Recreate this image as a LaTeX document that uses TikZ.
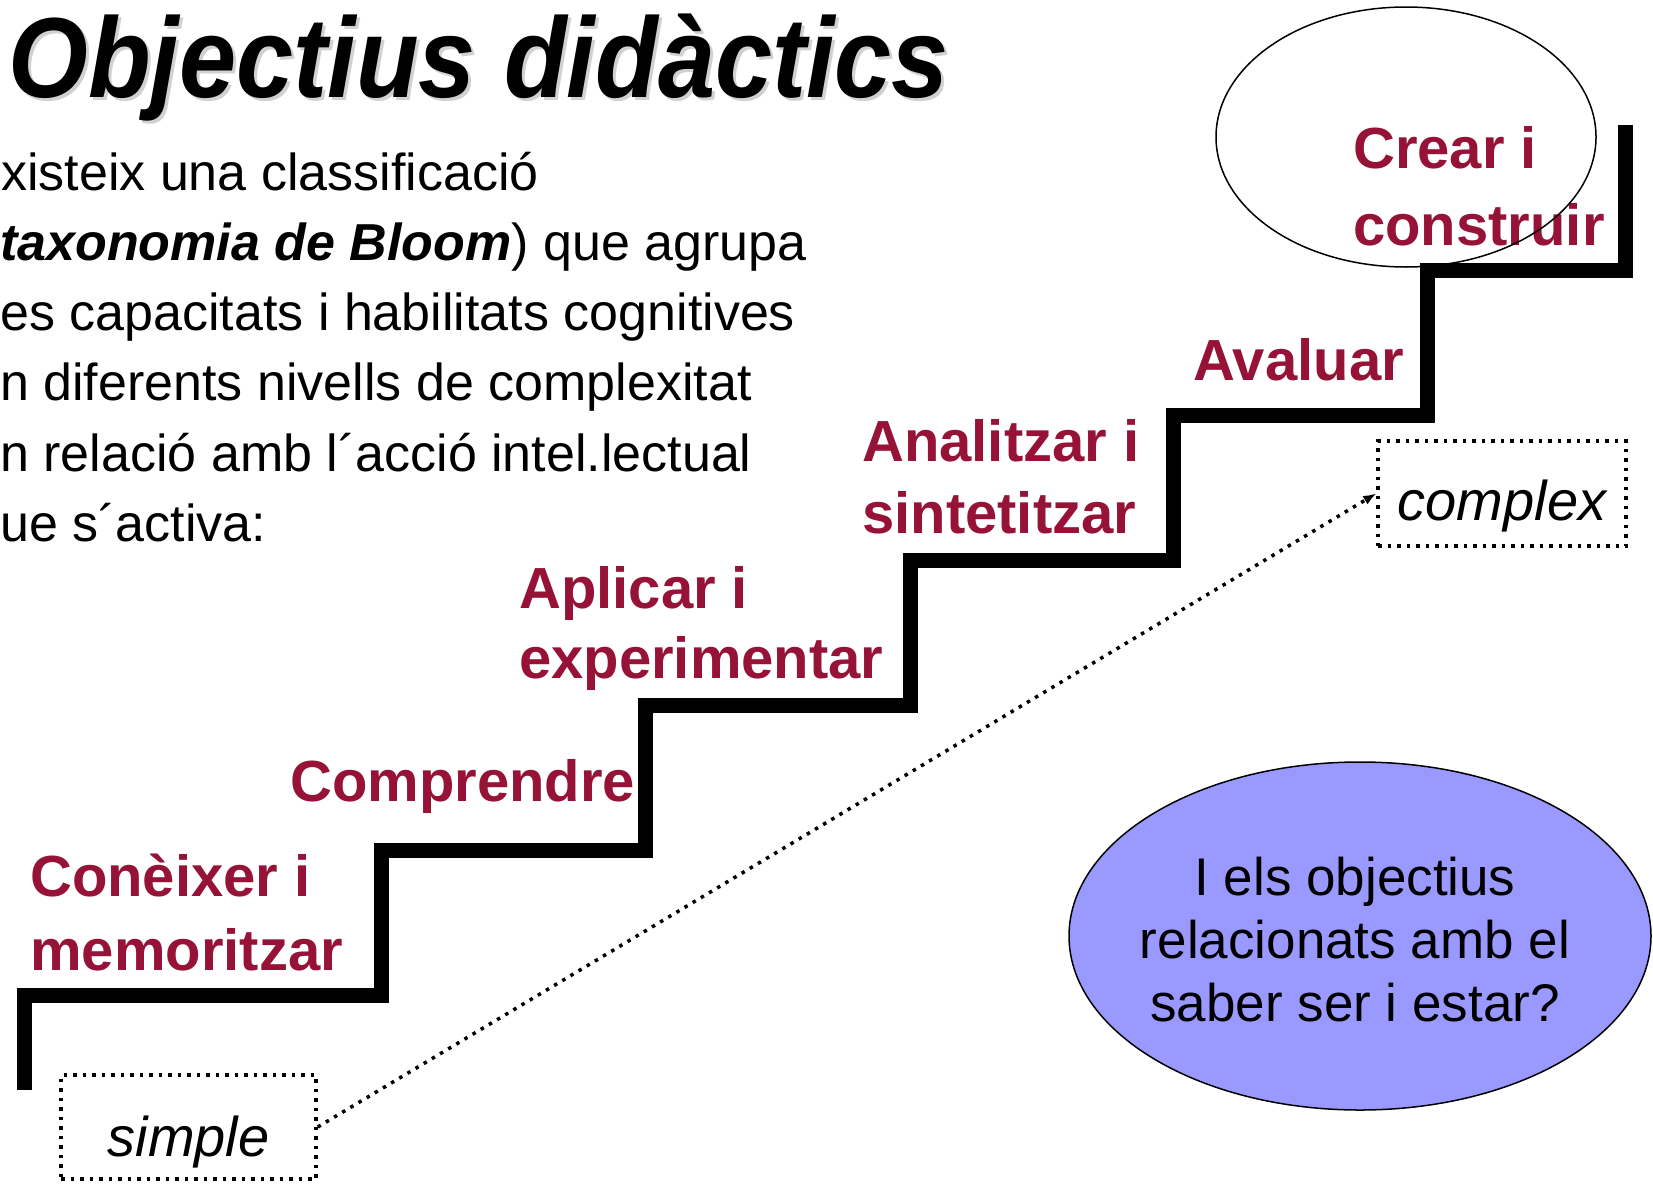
\documentclass[tikz,border=0pt]{standalone}
\usepackage{fontspec}
\setmainfont{Liberation Sans}
\newfontfamily\titlefont[FakeStretch=0.9]{Liberation Sans}
\usetikzlibrary{shapes.geometric,arrows.meta}
\definecolor{stepred}{RGB}{150,18,55}
\definecolor{ovalblue}{RGB}{153,153,255}
\begin{document}
\begin{tikzpicture}[x=1pt,y=-1pt,
  stairline/.style={line width=15pt, line join=miter, line cap=butt},
  steplabel/.style={anchor=base west, inner sep=0pt, text=stepred, font=\fontsize{58}{60}\selectfont\bfseries},
  bodytext/.style={anchor=base west, inner sep=0pt, font=\fontsize{52}{60}\selectfont},
  titletext/.style={anchor=base west, inner sep=0pt, font=\titlefont\fontsize{114}{120}\selectfont\bfseries\itshape},
  dotbox/.style={draw, line width=3.5pt, dash pattern=on 3.5pt off 6pt, inner sep=0pt, font=\fontsize{56}{60}\selectfont\itshape},
  dotarrow/.style={line width=3.5pt, dash pattern=on 3.5pt off 6pt, -{Latex[length=13pt,width=10pt]}},
  ]
\useasboundingbox (0,0) rectangle (1653,1183);
\fill[white] (0,0) rectangle (1653,1183);

% title
\node[titletext, text=black!18] (titleshadow) at (11,100) {Objectius didàctics};
\node[titletext, text=black] (title) at (8,97) {Objectius didàctics};

% body text
\node[bodytext] (l1) at (1,190) {xisteix una classificació};
\node[bodytext] (l2) at (0,260) {\textbf{\textit{taxonomia de Bloom}}) que agrupa};
\node[bodytext] (l3) at (0,330) {es capacitats i habilitats cognitives};
\node[bodytext] (l4) at (0,400) {n diferents nivells de complexitat};
\node[bodytext] (l5) at (0,471) {n relació amb l´acció intel.lectual};
\node[bodytext] (l6) at (0,541) {ue s´activa:};

% staircase
\draw[stairline] (24,1090) -- (24,995) -- (381,995) -- (381,850) -- (645,850)
  -- (645,705) -- (910,705) -- (910,560) -- (1173,560) -- (1173,415)
  -- (1427,415) -- (1427,270) -- (1625,270) -- (1625,125);

% step labels
\node[steplabel] (crear1) at (1353,168) {Crear i};
\node[steplabel] (crear2) at (1353,245) {construir};
\node[steplabel] (avaluar) at (1193,380) {Avaluar};
\node[steplabel] (anal1) at (862,461) {Analitzar i};
\node[steplabel] (anal2) at (862,533) {sintetitzar};
\node[steplabel] (apl1) at (519,608) {Aplicar i};
\node[steplabel] (apl2) at (519,678) {experimentar};
\node[steplabel] (compr) at (290,801) {Comprendre};
\node[steplabel] (con1) at (30,896) {Conèixer i};
\node[steplabel] (con2) at (30,970) {memoritzar};

% oval round top step
\node[ellipse, draw, line width=1.5pt, minimum width=380pt, minimum height=260pt, inner sep=0pt] (oval) at (1406,137) {};

% question ellipse
\node[ellipse, draw, line width=1.5pt, fill=ovalblue, minimum width=582pt, minimum height=348pt, inner sep=0pt] (question) at (1360,936) {};
\node[align=center, inner sep=0pt, font=\fontsize{53}{63}\selectfont] (questiontext) at (1355,940)
  {I els objectius\\relacionats amb el\\saber ser i estar?};

% dotted boxes
\node[dotbox, minimum width=255pt, minimum height=104pt, text height=70pt, text depth=12pt] (simple) at (188.5,1127) {simple};
\node[dotbox, minimum width=248pt, minimum height=105pt, text height=65pt, text depth=12pt] (complex) at (1502,493.5) {complex};

\draw[dotarrow] (simple.east) -- (complex.west);
\end{tikzpicture}
\end{document}
